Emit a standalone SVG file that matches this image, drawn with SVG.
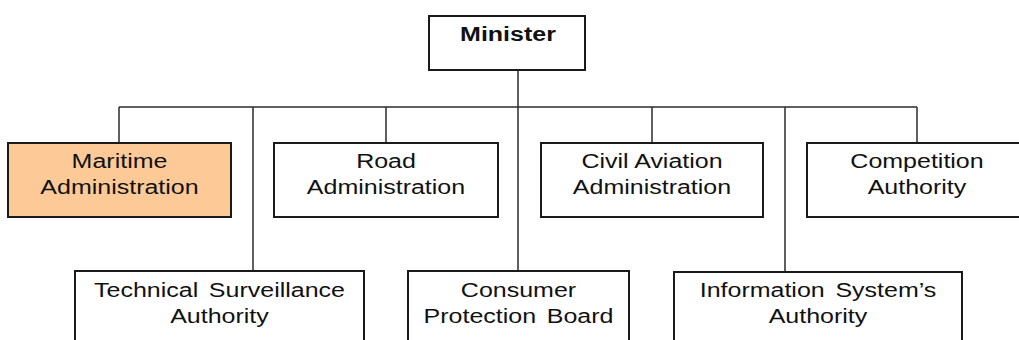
<svg xmlns="http://www.w3.org/2000/svg" width="1019" height="340" viewBox="0 0 1019 340">
  <style>
    .box { fill: #ffffff; stroke: #1a1a1a; stroke-width: 2; }
    .hl { fill: #fdca97; }
    .wire { fill: none; stroke: #2b2b2b; stroke-width: 1.5; }
    .lbl { font-family: "Liberation Sans", Arial, sans-serif; font-size: 20px; fill: #111; text-anchor: middle; }
    .bold { font-weight: bold; }
    .wide { word-spacing: 3px; }
  </style>
  <rect width="1019" height="340" fill="#ffffff"/>

  <!-- connectors -->
  <g id="connectors" class="wire">
    <path d="M518 70 V271"/>
    <path d="M119 107 H917"/>
    <path d="M119 107 V143"/>
    <path d="M386 107 V143"/>
    <path d="M652 107 V143"/>
    <path d="M917 107 V143"/>
    <path d="M253 107 V271"/>
    <path d="M785 107 V272"/>
  </g>

  <g id="minister">
    <rect class="box" x="429" y="16" width="156" height="54"/>
    <g transform="translate(508 41) scale(1.25 1)"><text class="lbl bold" x="0" y="0">Minister</text></g>
  </g>

  <g id="maritime">
    <rect class="box hl" x="8" y="143" width="223" height="74"/>
    <g transform="translate(119.5 0) scale(1.25 1)">
      <text class="lbl" x="0" y="168">Maritime</text>
      <text class="lbl" x="0" y="194">Administration</text>
    </g>
  </g>

  <g id="road">
    <rect class="box" x="274" y="143" width="224" height="74"/>
    <g transform="translate(386 0) scale(1.25 1)">
      <text class="lbl" x="0" y="168">Road</text>
      <text class="lbl" x="0" y="194">Administration</text>
    </g>
  </g>

  <g id="civil-aviation">
    <rect class="box" x="541" y="143" width="222" height="74"/>
    <g transform="translate(652 0) scale(1.25 1)">
      <text class="lbl" x="0" y="168">Civil Aviation</text>
      <text class="lbl" x="0" y="194">Administration</text>
    </g>
  </g>

  <g id="competition">
    <rect class="box" x="807" y="143" width="222" height="74"/>
    <g transform="translate(917 0) scale(1.25 1)">
      <text class="lbl" x="0" y="168">Competition</text>
      <text class="lbl" x="0" y="194">Authority</text>
    </g>
  </g>

  <g id="technical-surveillance">
    <rect class="box" x="75" y="271" width="289" height="90"/>
    <g transform="translate(219.5 0) scale(1.25 1)">
      <text class="lbl wide" x="0" y="297">Technical Surveillance</text>
      <text class="lbl" x="0" y="323">Authority</text>
    </g>
  </g>

  <g id="consumer-protection">
    <rect class="box" x="408" y="271" width="221" height="90"/>
    <g transform="translate(518.5 0) scale(1.25 1)">
      <text class="lbl" x="0" y="297">Consumer</text>
      <text class="lbl wide" x="0" y="323">Protection Board</text>
    </g>
  </g>

  <g id="information-systems">
    <rect class="box" x="674" y="272" width="288" height="90"/>
    <g transform="translate(818 0) scale(1.25 1)">
      <text class="lbl wide" x="0" y="297">Information System’s</text>
      <text class="lbl" x="0" y="323">Authority</text>
    </g>
  </g>
</svg>
